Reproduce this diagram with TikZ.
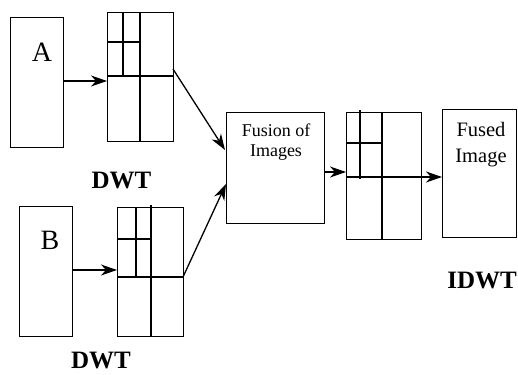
\documentclass[tikz,border=0pt]{standalone}
\usepackage{fontspec}
\setmainfont{Liberation Serif}
\usetikzlibrary{arrows.meta,calc}
\tikzset{
  blk/.style={draw,line width=1.3pt,inner sep=0pt,anchor=north west},
  grd/.style={line width=1.3pt},
  arr/.style={line width=1.3pt,-{Stealth[length=16pt,width=11pt,inset=5pt]}},
  lbl/.style={font=\fontsize{25}{25}\selectfont\bfseries,inner sep=0pt},
}
\begin{document}
\begin{tikzpicture}[x=1pt,y=-1pt]
\useasboundingbox (0,0) rectangle (518,374);
% boxes
\node[blk,minimum width=53pt,minimum height=130pt] (A) at (10,17) {};
\node[blk,minimum width=66pt,minimum height=129pt] (g1) at (107,12) {};
\node[blk,minimum width=53pt,minimum height=130pt] (B) at (19,206) {};
\node[blk,minimum width=66pt,minimum height=129pt] (g2) at (117,207) {};
\node[blk,minimum width=98pt,minimum height=111pt] (fus) at (226,112) {};
\node[blk,minimum width=75pt,minimum height=127pt] (g3) at (346,112) {};
\node[blk,minimum width=74pt,minimum height=128pt] (fd) at (442,109) {};
% grid lines
\draw[grd] (140,12) -- (140,141) (107,76) -- (173,76) (123,12) -- (123,76) (107,42) -- (140,42);
\draw[grd] (151,205) -- (151,336) (117,277) -- (183,277) (136,207) -- (136,278) (117,239) -- (151,239);
\draw[grd] (382,112) -- (382,239) (346,177) -- (421,177) (360,110) -- (360,179) (346,143) -- (382,143);
% texts
\node[font=\fontsize{28}{28}\selectfont,inner sep=0pt] (tA) at (42,52) {A};
\node[font=\fontsize{28}{28}\selectfont,inner sep=0pt] (tB) at (50,240) {B};
\node[font=\fontsize{18}{20}\selectfont,align=center,inner sep=0pt] (tf) at (276,142) {Fusion of\\Images};
\node[font=\fontsize{20.5}{26}\selectfont,align=center,inner sep=0pt] (tfd) at (481,145) {Fused\\Image};
\node[lbl] (d1) at (121.5,181) {DWT};
\node[lbl] (d2) at (101,360) {DWT};
\node[lbl] (d3) at (482,281) {IDWT};
% connectors
\coordinate (g1o) at (173,69);
\coordinate (f1) at (225,150);
\coordinate (g2o) at (183,277);
\coordinate (f2) at (226,184);
\draw[arr] (A.east |- 0,81) -- (g1.west |- 0,81);
\draw[arr] (B.east |- 0,270) -- (g2.west |- 0,270);
\draw[arr] (g1o) -- (f1);
\draw[arr] (g2o) -- (f2);
\draw[arr] (fus.east |- 0,172) -- (g3.west |- 0,172);
\draw[arr] (g3.east |- 0,177) -- (fd.west |- 0,177);
\end{tikzpicture}
\end{document}
